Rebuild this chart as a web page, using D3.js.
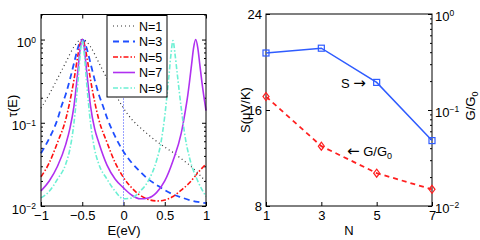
<!DOCTYPE html>
<html>
<head>
<meta charset="utf-8">
<script src="https://cdn.jsdelivr.net/npm/d3@7"></script>
<style>
body{margin:0;background:#fff;}
text{font-family:"Liberation Sans",Arial,Helvetica,sans-serif;fill:#000;}
.arrow{font-family:"DejaVu Sans",sans-serif;font-size:15px;}
</style>
</head>
<body>
<div id="chart"></div>
<script>
// transmission curves
var eN1 = [-1,-0.9,-0.8,-0.7,-0.6,-0.55,-0.5,-0.45,-0.4,-0.3,-0.2,-0.1,0,0.1,0.2,0.3,0.4,0.5,0.6,0.7,0.8,0.9,1];
var tauN1 = [0.15,0.22,0.34,0.53,0.82,0.95,1.0,0.95,0.82,0.53,0.34,0.22,0.15,0.11,0.088,0.072,0.06,0.051,0.044,0.037,0.031,0.025,0.0195];

var eN3 = [-1,-0.9,-0.8,-0.75,-0.7,-0.65,-0.6,-0.55,-0.525,-0.5,-0.475,-0.45,-0.4,-0.35,-0.3,-0.25,-0.2,-0.1,0,0.1,0.2,0.3,0.4,0.5,0.6,0.7,0.8,0.9,1];
var tauN3 = [0.043,0.065,0.11,0.16,0.22,0.33,0.52,0.81,0.95,1.0,0.95,0.81,0.52,0.33,0.22,0.16,0.115,0.068,0.045,0.033,0.026,0.021,0.018,0.0155,0.0138,0.0127,0.0118,0.0112,0.0108];

var eN5 = [-1,-0.9,-0.8,-0.7,-0.65,-0.6,-0.55,-0.525,-0.5,-0.475,-0.45,-0.4,-0.35,-0.3,-0.2,-0.1,0,0.1,0.2,0.3,0.4,0.5,0.6,0.7,0.8,0.9,1];
var tauN5 = [0.0225,0.033,0.058,0.11,0.18,0.33,0.67,0.89,1.0,0.89,0.67,0.33,0.18,0.11,0.058,0.033,0.022,0.0165,0.0135,0.012,0.0115,0.0118,0.013,0.0155,0.019,0.025,0.032];

var eN7 = [-1,-0.9,-0.8,-0.7,-0.65,-0.6,-0.55,-0.525,-0.5,-0.475,-0.45,-0.4,-0.35,-0.3,-0.2,-0.1,0,0.1,0.2,0.3,0.4,0.5,0.6,0.7,0.75,0.775,0.8,0.825,0.85,0.875,0.9,0.925,0.95,1];
var tauN7 = [0.0152,0.02,0.03,0.055,0.085,0.16,0.45,0.78,1.0,0.78,0.45,0.16,0.085,0.058,0.031,0.021,0.0165,0.0135,0.0122,0.0125,0.0145,0.02,0.035,0.075,0.14,0.2,0.31,0.5,0.8,1.0,0.8,0.5,0.31,0.14];

var eN9 = [-1,-0.9,-0.8,-0.7,-0.65,-0.6,-0.55,-0.525,-0.5,-0.475,-0.45,-0.4,-0.35,-0.3,-0.2,-0.1,0,0.1,0.2,0.3,0.4,0.45,0.5,0.55,0.575,0.6,0.625,0.65,0.7,0.75,0.8,0.9,1];
var tauN9 = [0.0125,0.015,0.021,0.032,0.048,0.1,0.33,0.66,0.98,0.66,0.33,0.1,0.048,0.032,0.021,0.015,0.0122,0.0125,0.015,0.02,0.035,0.055,0.12,0.36,0.66,0.97,0.66,0.4,0.15,0.065,0.038,0.02,0.013];

// right panel
var nVals = [1,3,5,7];
var sVals = [20.75,21.15,18.3,13.45];
var gVals = [0.138,0.042,0.022,0.0149];

var xTicksL = [-1,-0.5,0,0.5,1];
var xTickLabelsL = ["\u22121","\u22120.5","0","0.5","1"];
var sTicks = [8,16,24];

var series = [
  {label:"N=1", e:eN1, t:tauN1, color:"#333", width:1.2, dash:"1,3"},
  {label:"N=3", e:eN3, t:tauN3, color:"#1f4fff", width:1.8, dash:"6,4"},
  {label:"N=5", e:eN5, t:tauN5, color:"#ff1010", width:1.6, dash:"5,2,1.5,2"},
  {label:"N=7", e:eN7, t:tauN7, color:"#b030f0", width:1.6, dash:null},
  {label:"N=9", e:eN9, t:tauN9, color:"#6cf0d4", width:1.6, dash:"5,2,1.5,2"}
];

var svg = d3.select("#chart").append("svg")
  .attr("width",480).attr("height",240);

function supLabel(sel, exps){
  sel.each(function(d,i){
    var t = d3.select(this).text("10");
    t.append("tspan").attr("dy","-0.55em").attr("font-size","8.5px").text(exps[i]);
  });
}

// ---------- left panel ----------
var xL = d3.scaleLinear().domain([-1,1]).range([41,206]);
var yL = d3.scaleLog().domain([0.01,2]).range([206,14.5]);

var minorL = [];
[0.01,0.1,1].forEach(function(b){
  for (var k=2;k<=9;k++){ if (b*k<=2) minorL.push(b*k); }
});

var left = svg.append("g");

function ticksOnly(g){ g.select(".domain").remove(); g.selectAll("line").attr("stroke","#000"); }

left.append("g").attr("transform","translate(0,206)")
  .call(d3.axisBottom(xL).tickValues(xTicksL).tickSizeInner(-4).tickSizeOuter(0).tickPadding(5)
    .tickFormat(function(d,i){ return xTickLabelsL[i]; }))
  .call(ticksOnly)
  .selectAll("text").attr("font-size","13px");
left.append("g").attr("transform","translate(0,14.5)")
  .call(d3.axisTop(xL).tickValues(xTicksL).tickSizeInner(-4).tickSizeOuter(0).tickFormat(""))
  .call(ticksOnly);

var yAxL = left.append("g").attr("transform","translate(41,0)")
  .call(d3.axisLeft(yL).tickValues([0.01,0.1,1]).tickSizeInner(-4).tickSizeOuter(0).tickPadding(5).tickFormat(""))
  .call(ticksOnly);
yAxL.selectAll("text").attr("font-size","13px").attr("dy","0.55em").call(supLabel,["\u22122","\u22121","0"]);
left.append("g").attr("transform","translate(41,0)")
  .call(d3.axisLeft(yL).tickValues(minorL).tickSizeInner(-2).tickSizeOuter(0).tickFormat(""))
  .call(ticksOnly);
left.append("g").attr("transform","translate(206,0)")
  .call(d3.axisRight(yL).tickValues([0.01,0.1,1]).tickSizeInner(-4).tickSizeOuter(0).tickFormat(""))
  .call(ticksOnly);
left.append("g").attr("transform","translate(206,0)")
  .call(d3.axisRight(yL).tickValues(minorL).tickSizeInner(-2).tickSizeOuter(0).tickFormat(""))
  .call(ticksOnly);

// dotted marker at E = 0
left.append("line")
  .attr("x1",xL(0)).attr("x2",xL(0)).attr("y1",yL(2)).attr("y2",yL(0.01))
  .attr("stroke","#3344ff").attr("stroke-width",1).attr("stroke-dasharray","1,2");

var lineL = d3.line()
  .curve(d3.curveMonotoneX)
  .x(function(d){ return xL(d[0]); })
  .y(function(d){ return yL(d[1]); });

left.append("g").selectAll("path")
  .data(series)
  .enter()
  .append("path")
  .attr("fill","none")
  .attr("stroke",function(d){ return d.color; })
  .attr("stroke-width",function(d){ return d.width; })
  .attr("stroke-dasharray",function(d){ return d.dash; })
  .attr("d",function(d){ return lineL(d3.zip(d.e,d.t)); });

left.append("rect")
  .attr("x",41).attr("y",14.5).attr("width",165).attr("height",191.5)
  .attr("fill","none").attr("stroke","#000").attr("stroke-width",1);

// legend
var lg = left.append("g").attr("transform","translate(107,15.5)");
lg.append("rect").attr("width",60).attr("height",81.5)
  .attr("fill","#fff").attr("stroke","#000").attr("stroke-width",1);
var rows = lg.selectAll(".row").data(series).enter().append("g")
  .attr("transform",function(d,i){ return "translate(0,"+(10.5+i*15.5)+")"; });
rows.append("line").attr("x1",6).attr("x2",28)
  .attr("stroke",function(d){ return d.color; })
  .attr("stroke-width",function(d){ return d.width; })
  .attr("stroke-dasharray",function(d){ return d.dash; });
rows.append("text").attr("x",32).attr("y",4.5).attr("font-size","12.5px").text(function(d){ return d.label; });

left.append("text").attr("x",124).attr("y",235).attr("text-anchor","middle").attr("font-size","13px").text("E(eV)");
left.append("text").attr("transform","translate(17,106) rotate(-90)").attr("text-anchor","middle")
  .attr("font-size","13px").text("\u03c4(E)");

// ---------- right panel ----------
var xR = d3.scaleLinear().domain([1,7]).range([266,432]);
var yS = d3.scaleLinear().domain([8,24]).range([206,14]);
var yG = d3.scaleLog().domain([0.01,1]).range([206,14]);

var minorG = [];
[0.01,0.1].forEach(function(b){ for (var k=2;k<=9;k++) minorG.push(b*k); });

var right = svg.append("g");
right.append("g").attr("transform","translate(0,206)")
  .call(d3.axisBottom(xR).tickValues(nVals).tickSizeInner(-4).tickSizeOuter(0).tickPadding(5).tickFormat(d3.format("d")))
  .call(ticksOnly)
  .selectAll("text").attr("font-size","13px");
right.append("g").attr("transform","translate(266,0)")
  .call(d3.axisLeft(yS).tickValues(sTicks).tickSizeInner(-4).tickSizeOuter(0).tickPadding(4))
  .call(ticksOnly)
  .selectAll("text").attr("font-size","13px");
var yAxR = right.append("g").attr("transform","translate(432,0)")
  .call(d3.axisRight(yG).tickValues([0.01,0.1,1]).tickSizeInner(-4).tickSizeOuter(0).tickPadding(3).tickFormat(""))
  .call(ticksOnly);
yAxR.selectAll("text").attr("font-size","13px").attr("dy","0.5em").call(supLabel,["\u22122","\u22121","0"]);
right.append("g").attr("transform","translate(432,0)")
  .call(d3.axisRight(yG).tickValues(minorG).tickSizeInner(-2).tickSizeOuter(0).tickFormat(""))
  .call(ticksOnly);

right.append("rect")
  .attr("x",266).attr("y",14).attr("width",166).attr("height",192)
  .attr("fill","none").attr("stroke","#000").attr("stroke-width",1);

var sLine = d3.line().x(function(d){ return xR(d[0]); }).y(function(d){ return yS(d[1]); });
var gLine = d3.line().x(function(d){ return xR(d[0]); }).y(function(d){ return yG(d[1]); });

right.append("path").attr("d",sLine(d3.zip(nVals,sVals)))
  .attr("fill","none").attr("stroke","#2f5cff").attr("stroke-width",1.5);
right.append("path").attr("d",gLine(d3.zip(nVals,gVals)))
  .attr("fill","none").attr("stroke","#ff2020").attr("stroke-width",1.8).attr("stroke-dasharray","5,4");

right.selectAll(".sq").data(d3.zip(nVals,sVals)).enter().append("rect")
  .attr("x",function(d){ return xR(d[0])-3; })
  .attr("y",function(d){ return yS(d[1])-3; })
  .attr("width",6).attr("height",6)
  .attr("fill","none").attr("stroke","#2f5cff").attr("stroke-width",1.2);
right.selectAll(".dm").data(d3.zip(nVals,gVals)).enter().append("path")
  .attr("transform",function(d){ return "translate("+xR(d[0])+","+yG(d[1])+")"; })
  .attr("d","M0,-4L3,0L0,4L-3,0Z")
  .attr("fill","none").attr("stroke","#ff2020").attr("stroke-width",1.2);

var sl = right.append("text").attr("x",341).attr("y",88).attr("font-size","13px").text("S ");
sl.append("tspan").attr("class","arrow").text("\u2192");
var gl = right.append("text").attr("x",347).attr("y",156).attr("font-size","13px");
gl.append("tspan").attr("class","arrow").text("\u2190");
gl.append("tspan").text(" G/G");
gl.append("tspan").attr("dy","0.35em").attr("font-size","9px").text("0");

right.append("text").attr("x",349).attr("y",235).attr("text-anchor","middle").attr("font-size","13px").text("N");
right.append("text").attr("transform","translate(250,110) rotate(-90)").attr("text-anchor","middle")
  .attr("font-size","13px").text("S(\u03bcV/K)");
var gy = right.append("text").attr("transform","translate(475,106) rotate(-90)").attr("text-anchor","middle")
  .attr("font-size","13px").text("G/G");
gy.append("tspan").attr("dy","0.35em").attr("font-size","9px").text("0");
</script>
</body>
</html>
